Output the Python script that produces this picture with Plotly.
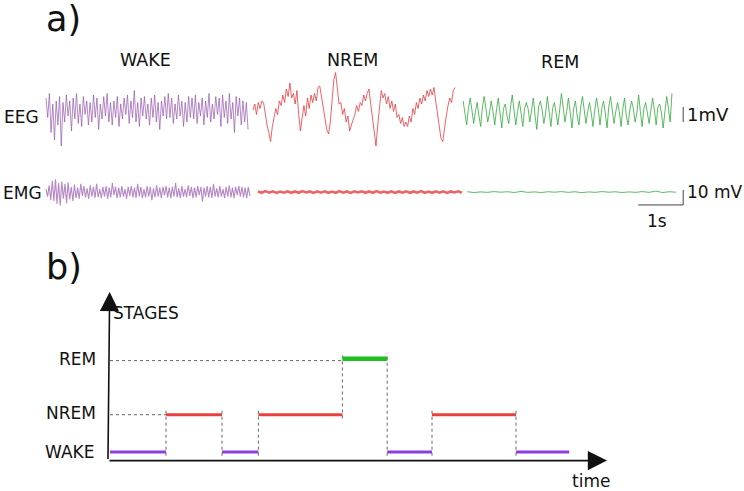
import numpy as np
import plotly.graph_objects as go

# ---------- panel a) example traces, values in mV ----------
eeg_wake = [0.8, -0.5, 1.1, -1.5, 0.4, -2.0, 0.6, -1.0, 0.9, -2.4, 0.5, -0.8, 1.0, -0.4, 0.6, -1.4,
            0.8, -0.6, 1.1, -0.9, 0.4, -1.1, 0.9, -0.3, 0.6, -1.0, 0.5, -0.8, 1.0, -0.5, 0.8, -1.3,
            0.4, -0.6, 0.9, -0.4, 1.1, -0.8, 0.5, -1.0, 0.6, -0.5, 0.9, -1.1, 0.4, -0.6, 0.8, -0.3,
            1.0, -0.9, 0.6, -0.5, 1.3, -0.8, 0.5, -1.1, 0.8, -0.4, 0.9, -0.6, 0.4, -1.0, 0.8, -0.5,
            1.0, -0.8, 0.5, -1.3, 0.6, -0.4, 0.9, -0.6, 1.1, -0.5, 0.8, -0.9, 0.4, -0.6, 1.0, -0.4,
            0.6, -1.1, 0.5, -0.8, 0.9, -0.5, 0.8, -0.6, 1.0, -0.9, 0.5, -0.4, 0.8, -1.0, 0.6, -0.5,
            1.1, -0.8, 0.4, -0.6, 0.9, -0.3, 0.8, -1.1, 1.0, -0.5, 0.6, -0.9, 1.1, -0.6, 0.5, -1.5,
            0.9, -0.4, 0.8, -1.0, 0.6, -0.8, 0.5, -1.3]
eeg_nrem = [0.0, 0.4, -0.3, 0.5, 0.1, 0.6, 0.5,
            -0.4, -1.0, -1.5, -2.1, -1.1, -0.5,
            0.1, -0.3, 0.6, 0.3, 1.0, 0.5, 1.4, 0.9, 1.8,
            0.8, 1.1, 0.4, 1.3, -0.3, -1.4, -0.5,
            0.3, -0.4, 0.8, 0.1, 1.0, 0.5, 1.1, 0.6, 1.5, 1.6,
            0.9, 0.3, -0.6, -1.3, -1.6, -0.8,
            0.6, 2.0, 2.5, 1.4, 0.4,
            0.5, -0.3, 0.1, -0.8, -0.4, -1.4, -1.0, -0.6,
            -0.3, 0.3, -0.1, 0.5, 0.3, 1.0, 0.6, 1.1, 1.4,
            0.4, -0.6, -1.5, -2.4, -1.0, 0.3, 1.3,
            0.8, 1.1, 0.4, 0.9, 0.1, 0.6, -0.1, 0.4, -0.5, -0.3, -0.9, -0.5, -1.1, -0.8, -1.1,
            -0.4, -0.8, 0.1, -0.3, 0.5, 0.1, 0.8, 0.4, 1.0, 0.6, 1.3, 0.9, 1.4, 1.0, 1.5,
            0.6, -0.3, -1.0, -1.9, -2.1,
            -1.1, -0.4, 0.3, 0.8, 0.5, 1.3, 1.5]
eeg_rem = [0.6, -0.2, -1.0, 0.1, 0.8, 0.0, -0.9, -0.1, 0.5, -0.4, -1.1, 0.2, 0.9, 0.1, -0.8, -0.2,
           0.6, -0.1, -1.0, 0.0, 0.8, -0.2, -1.2, 0.1, 0.4, -0.4, -0.9, 0.2, 1.0, 0.0, -1.0, -0.1,
           0.6, -0.2, -1.1, 0.1, 0.5, 0.1, -0.8, 0.0, 0.8, -0.4, -1.3, 0.2, 0.6, 0.0, -0.9, -0.2,
           0.9, -0.1, -1.1, 0.1, 0.5, -0.2, -1.0, 0.0, 1.1, 0.2, -0.8, -0.1, 0.8, -0.1, -1.2, 0.1,
           0.6, -0.4, -1.0, 0.2, 0.9, 0.0, -0.9, -0.1, 0.5, -0.2, -1.1, 0.0, 0.8, 0.1, -1.0, 0.1,
           0.6, -0.2, -1.2, 0.2, 0.9, 0.0, -0.9, -0.1, 0.5, -0.1, -1.1, 0.1, 0.8, -0.4, -1.0, 0.0,
           0.6, 0.1, -0.8, -0.2, 1.0, -0.1, -1.1, 0.1, 0.5, -0.2, -0.9, 0.0, 0.8, 0.0, -1.0, 0.2,
           0.4, -0.2, -1.2, -0.1, 0.9, 0.1, -0.8, 1.1]
emg_wake = [2.0, -3.0, 4.5, -5.5, 7.5, -6.0, 8.5, -8.0, 6.0, -9.0, 7.0, -4.5, 5.5, -7.5, 6.5, -5.0,
            3.5, -6.0, 5.0, -4.0, 3.0, -4.5, 5.5, -2.5, 4.0, -3.5, 2.5, -4.5, 4.5, -3.0, 3.5, -4.0,
            5.5, -3.5, 2.0, -4.0, 3.5, -3.0, 4.0, -4.5, 3.0, -3.5, 6.0, -2.0, 3.5, -4.0, 3.0, -3.5,
            4.0, -3.0, 2.0, -4.5, 3.5, -2.5, 4.0, -3.5, 3.0, -4.0, 5.5, -3.0, 3.5, -4.0, 2.0, -3.5,
            4.0, -3.0, 3.5, -5.5, 2.5, -3.5, 4.5, -3.0, 3.0, -4.0, 3.5, -2.0, 4.0, -3.5, 3.0, -4.0,
            3.5, -3.0, 6.0, -3.5, 2.5, -4.0, 4.0, -3.0, 2.0, -3.5, 4.5, -2.5, 3.5, -4.0, 3.0, -3.5,
            4.0, -2.0, 3.5, -6.5, 3.0, -3.0, 4.0, -3.5, 3.5, -4.0, 5.5, -3.0, 2.5, -3.5, 4.0, -3.0,
            2.0, -4.0, 3.5, -3.0, 4.5, -3.5, 3.0, -4.0, 3.5, -2.0, 4.0, -3.0, 3.5, -3.5, 3.0, -4.0,
            3.5, -2.5]
emg_nrem = [0.4, -0.5, 0.6, -0.4, 0.5, -0.6, 0.3, -0.4, 0.5, -0.5, 0.4, -0.5, 0.6, -0.3, 0.4, -0.6,
            0.5, -0.4, 0.5, -0.5, 0.3, -0.5, 0.6, -0.4, 0.4, -0.6, 0.5, -0.3, 0.5, -0.5, 0.4, -0.5,
            0.6, -0.4, 0.3, -0.5, 0.5, -0.6, 0.4, -0.4, 0.5, -0.5, 0.4, -0.4, 0.6, -0.5, 0.3, -0.5,
            0.5, -0.4, 0.5, -0.6, 0.4, -0.3, 0.5, -0.5]
emg_rem = [0.2, -0.3, 0.1, -0.2, 0.3, -0.1, 0.2, -0.3, 0.4, -0.2, 0.1, -0.3, 0.2, -0.1, 0.3, -0.2,
           0.2, -0.4, 0.1, -0.2, 0.3, -0.1, 0.2, -0.3, 0.1, -0.2, 0.3, -0.2, 0.6, -0.3, 0.2, -0.1]

# segment timing (s): start, duration
eeg_seg = [(0.0, 4.49), (4.6, 4.49), (9.27, 4.64)]
emg_seg = [(0.0, 4.53), (4.71, 4.53), (9.36, 4.64)]
emg_offset = -5.47      # EMG baseline below EEG
emg_gain = 0.1          # 10 mV EMG drawn as 1 mV EEG

seg_colors = ["rgba(150,85,175,0.7)", "rgba(232,60,64,0.8)", "rgba(50,170,60,0.8)"]

# ---------- panel b) hypnogram ----------
hyp_stage = ["WAKE", "NREM", "WAKE", "NREM", "REM", "WAKE", "NREM", "WAKE"]
hyp_start = [0, 10, 20, 26.5, 41.5, 49.5, 57.5, 72.5]
hyp_end = [10, 20, 26.5, 41.5, 49.5, 57.5, 72.5, 82]
stage_level = {"WAKE": 0, "NREM": 1, "REM": 2.5}
stage_color = {"WAKE": "#8b3fe0", "NREM": "#e8403f", "REM": "#1fbf1f"}
stage_width = {"WAKE": 3, "NREM": 3, "REM": 4.5}

W, H = 744, 491
FONT = "DejaVu Sans"

fig = go.Figure()

for vals, (t0, dur), col in zip([eeg_wake, eeg_nrem, eeg_rem], eeg_seg, seg_colors):
    t = t0 + np.linspace(0, dur, len(vals))
    fig.add_trace(go.Scatter(x=t, y=vals, mode="lines", line=dict(color=col, width=1)))

for vals, (t0, dur), col, w in zip([emg_wake, emg_nrem, emg_rem], emg_seg, seg_colors, [1.1, 2.6, 1]):
    t = t0 + np.linspace(0, dur, len(vals))
    y = emg_offset + emg_gain * np.array(vals)
    fig.add_trace(go.Scatter(x=t, y=y, mode="lines", line=dict(color=col, width=w)))

# scale bars
bar_x = 14.16
fig.add_trace(go.Scatter(x=[bar_x, bar_x], y=[0.2, -0.8], mode="lines",
                         line=dict(color="#444", width=1)))
fig.add_trace(go.Scatter(x=[bar_x, bar_x, bar_x - 1], y=[-5.33, -6.33, -6.33], mode="lines",
                         line=dict(color="#444", width=1)))

# hypnogram guides (dotted)
gx, gy = [], []
for i in range(1, len(hyp_stage)):
    a, b = stage_level[hyp_stage[i - 1]], stage_level[hyp_stage[i]]
    gx += [hyp_start[i], hyp_start[i], None]
    gy += [min(a, b) - 0.1, max(a, b) + 0.15, None]
first_nrem = hyp_start[hyp_stage.index("NREM")]
first_rem = hyp_start[hyp_stage.index("REM")]
gx += [0, first_nrem, None, 0, first_rem]
gy += [1, 1, None, 2.45, 2.45]
fig.add_trace(go.Scatter(x=gx, y=gy, mode="lines", xaxis="x2", yaxis="y2",
                         line=dict(color="#666", width=1, dash="dot")))

for s, a, b in zip(hyp_stage, hyp_start, hyp_end):
    lv = stage_level[s]
    fig.add_trace(go.Scatter(x=[a, b], y=[lv, lv], mode="lines", xaxis="x2", yaxis="y2",
                             line=dict(color=stage_color[s], width=stage_width[s])))

# axes arrows of the hypnogram
ax0, ay0 = -0.36, -0.23
arrows = [dict(x=88.75, y=ay0), dict(x=ax0 + 0.3, y=4.29)]
anns = []
for a in arrows:
    anns.append(dict(x=a["x"], y=a["y"], ax=ax0, ay=ay0, xref="x2", yref="y2", axref="x2", ayref="y2",
                     text="", showarrow=True, arrowhead=2, arrowsize=2.4, arrowwidth=1.6,
                     arrowcolor="#111"))


def txt(px, py, s, size=16, xa="center"):
    anns.append(dict(x=px / W, y=1 - py / H, xref="paper", yref="paper", text=s, showarrow=False,
                     xanchor=xa, yanchor="middle", font=dict(family=FONT, size=size, color="#111")))


txt(44, 19, "a)", 35, "left")
txt(44, 267, "b)", 35, "left")
txt(145, 60, "WAKE", 17.5)
txt(352, 60, "NREM", 17.5)
txt(560, 62, "REM", 17.5)
txt(2, 117, "EEG", 17, "left")
txt(1, 193, "EMG", 17, "left")
txt(685, 114, "1mV", 18, "left")
txt(685, 192, "10 mV", 17, "left")
txt(657, 221, "1s", 17)
txt(111, 313, "STAGES", 17, "left")
txt(98, 359, "REM", 17, "right")
txt(98, 413, "NREM", 17, "right")
txt(96, 452, "WAKE", 17, "right")
txt(591, 481, "time", 17)

ax_off = dict(visible=False, fixedrange=True)
fig.update_layout(
    width=W, height=H, margin=dict(l=0, r=0, t=0, b=0),
    paper_bgcolor="white", plot_bgcolor="white", showlegend=False,
    xaxis=dict(range=[-46 / 45, 698 / 45], domain=[0, 1], **ax_off),
    yaxis=dict(range=[-381 / 15, 110 / 15], domain=[0, 1], **ax_off),
    xaxis2=dict(range=[-110 / 5.6, 634 / 5.6], overlaying="x", anchor="y2", **ax_off),
    yaxis2=dict(range=[-39 / 37.3, 452 / 37.3], overlaying="y", anchor="x2", **ax_off),
    annotations=anns,
)

# page body has a default 8px margin; drop it so the figure sits at the window origin
fig.write_html("out.html", config={"displayModeBar": False},
               post_script="document.body.style.margin='0';document.body.style.overflow='hidden';")
